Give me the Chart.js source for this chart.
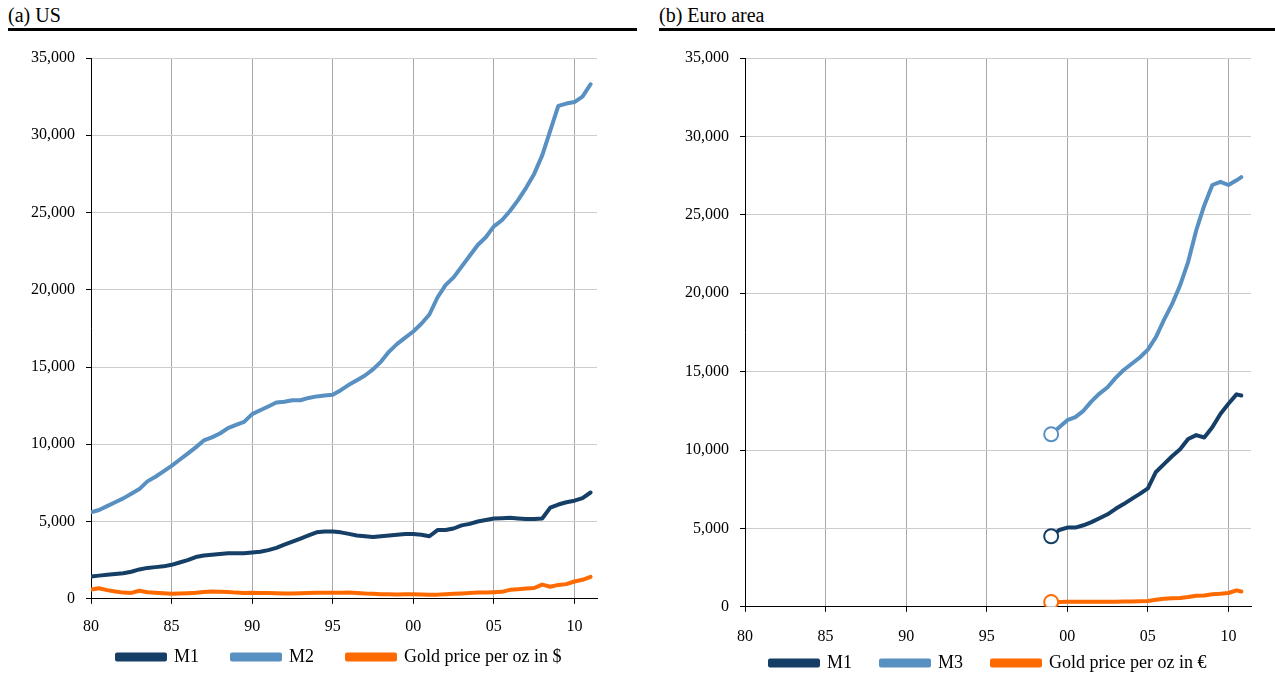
<!DOCTYPE html>
<html>
<head>
<meta charset="utf-8">
<script src="https://cdn.jsdelivr.net/npm/chart.js@4.4.0/dist/chart.umd.min.js"></script>
<style>
  body { margin: 0; width: 1275px; height: 674px; background: #fff; position: relative; overflow: hidden;
         font-family: "Liberation Serif", serif; }
  .title { position: absolute; top: 3px; height: 25px; border-bottom: 3px solid #000; font-size: 20px; line-height: 24px; }
  .box { position: absolute; top: 0; }
</style>
</head>
<body>
<div class="title" style="left:8px;width:629px">(a) US</div>
<div class="title" style="left:659px;width:616px">(b) Euro area</div>
<div class="box" style="left:0;width:637px;height:710px"><canvas id="us"></canvas></div>
<div class="box" style="left:640px;width:635px;height:718px"><canvas id="eu"></canvas></div>
<script>
// half-year steps, 1980 - 2011
const usYears = [];
for (let y = 1980; y <= 2011; y += 0.5) usYears.push(y);

const usM1 = [1450, 1500, 1550, 1600, 1650, 1750, 1900, 2000, 2050, 2100,
  2200, 2350, 2500, 2700, 2800, 2850, 2900, 2950, 2950, 2950,
  3000, 3050, 3150, 3300, 3500, 3700, 3900, 4100, 4300, 4350,
  4350, 4300, 4200, 4100, 4050, 4000, 4050, 4100, 4150, 4200,
  4200, 4150, 4050, 4450, 4450, 4550, 4750, 4850, 5000, 5100,
  5200, 5220, 5240, 5200, 5160, 5170, 5200, 5900, 6100, 6250,
  6350, 6520, 6880];

const usM2 = [5600, 5750, 6000, 6250, 6500, 6800, 7100, 7600, 7900, 8250,
  8600, 9000, 9400, 9800, 10250, 10450, 10700, 11050, 11250, 11450,
  11950, 12200, 12450, 12700, 12750, 12850, 12850, 13000, 13100, 13150,
  13200, 13500, 13850, 14150, 14450, 14850, 15350, 16000, 16500, 16900,
  17300, 17800, 18400, 19500, 20300, 20800, 21500, 22200, 22900, 23400,
  24100, 24500, 25100, 25800, 26600, 27500, 28700, 30300, 31900, 32050,
  32150, 32500, 33300];

const usGold = [600, 680, 560, 470, 400, 380, 520, 430, 390, 360,
  330, 340, 360, 390, 440, 470, 460, 440, 400, 380,
  390, 380, 370, 360, 350, 350, 360, 380, 390, 390,
  390, 390, 400, 380, 340, 320, 300, 290, 280, 290,
  290, 280, 270, 270, 300, 320, 350, 370, 400, 400,
  430, 450, 580, 620, 660, 700, 920, 780, 900, 950,
  1120, 1230, 1420];

// euro area starts in 1999
const euYears = [1999, 1999.5, 2000, 2000.5, 2001, 2001.5, 2002, 2002.5, 2003, 2003.5,
  2004, 2004.5, 2005, 2005.5, 2006, 2006.5, 2007, 2007.5, 2008, 2008.5,
  2009, 2009.5, 2010, 2010.5, 2010.8];

const euM1 = [4500, 4900, 5050, 5050, 5200, 5400, 5650, 5900, 6250, 6550,
  6880, 7200, 7550, 8600, 9100, 9600, 10050, 10700, 10950, 10800,
  11450, 12300, 12950, 13550, 13480];

const euM3 = [11000, 11450, 11900, 12100, 12500, 13100, 13600, 14000, 14600, 15100,
  15500, 15900, 16400, 17200, 18300, 19300, 20500, 22000, 24000, 25600,
  26900, 27100, 26900, 27200, 27400];

const euGold = [300, 310, 320, 320, 320, 330, 330, 330, 330, 340,
  340, 350, 370, 450, 520, 540, 560, 620, 700, 720,
  800, 830, 880, 1050, 980];

const yTicks = [0, 5000, 10000, 15000, 20000, 25000, 30000, 35000];

const cDark = '#153f66';
const cLight = '#5890c2';
const cGold = '#ff6a00';

const serifFamily = "'Liberation Serif', serif";
Chart.defaults.font.family = serifFamily;
Chart.defaults.color = '#000';

function pts(xs, ys) {
  return ys.map((v, i) => ({ x: xs[i], y: v }));
}

function serie(label, xs, ys, color, firstMarker) {
  return {
    label: label,
    data: pts(xs, ys),
    borderColor: color,
    backgroundColor: color,
    borderWidth: 4,
    borderCapStyle: 'round',
    borderJoinStyle: 'round',
    pointRadius: firstMarker ? ys.map((_, i) => i === 0 ? 7 : 0) : 0,
    pointBackgroundColor: '#fff',
    pointBorderColor: color,
    pointBorderWidth: 2
  };
}

// moves the legend block after layout (keeps chart area where it is)
const legendShift = {
  id: 'legendShift',
  afterLayout(chart, args, opts) {
    const lg = chart.legend;
    if (!lg) return;
    lg.left += opts.dx; lg.right += opts.dx;
    lg.top += opts.dy; lg.bottom += opts.dy;
  }
};

function makeChart(id, datasets, axisWidth, padRight, tickPad, legendPad, dx, dy) {
  return new Chart(document.getElementById(id), {
    type: 'line',
    data: { datasets: datasets },
    plugins: [legendShift],
    options: {
      responsive: true,
      maintainAspectRatio: false,
      animation: false,
      layout: { padding: { top: 58, right: padRight, left: 0, bottom: 0 } },
      plugins: {
        tooltip: { enabled: false },
        legendShift: { dx: dx, dy: dy },
        legend: {
          position: 'bottom',
          align: 'start',
          labels: {
            boxWidth: 48,
            boxHeight: 5,
            padding: legendPad,
            font: { family: serifFamily, size: 18 }
          }
        }
      },
      scales: {
        x: {
          type: 'linear',
          min: 1980,
          max: 2011.4,
          grid: { color: '#a8a8a8', tickColor: '#000', tickLength: 5 },
          border: { color: '#000' },
          ticks: {
            stepSize: 5,
            includeBounds: false,
            padding: tickPad,
            font: { family: serifFamily, size: 16 },
            maxRotation: 0,
            callback: v => String(v % 100).padStart(2, '0')
          }
        },
        y: {
          min: 0,
          max: 35000,
          afterFit: s => { s.width = axisWidth; },
          afterBuildTicks: s => { s.ticks = yTicks.map(v => ({ value: v })); },
          grid: { color: '#cdcdcd', tickColor: '#000', tickLength: 5 },
          border: { color: '#000' },
          ticks: {
            padding: 11,
            font: { family: serifFamily, size: 16 },
            callback: v => v.toLocaleString('en-US')
          }
        }
      }
    }
  });
}

makeChart('us', [
  serie('M1', usYears, usM1, cDark, false),
  serie('M2', usYears, usM2, cLight, false),
  serie('Gold price per oz in $', usYears, usGold, cGold, false)
], 91, 40, 13, 33, 84, -34);

makeChart('eu', [
  serie('M1', euYears, euM1, cDark, true),
  serie('M3', euYears, euM3, cLight, true),
  serie('Gold price per oz in €', euYears, euGold, cGold, true)
], 105, 24, 15, 29, 101, -36);
</script>
</body>
</html>
